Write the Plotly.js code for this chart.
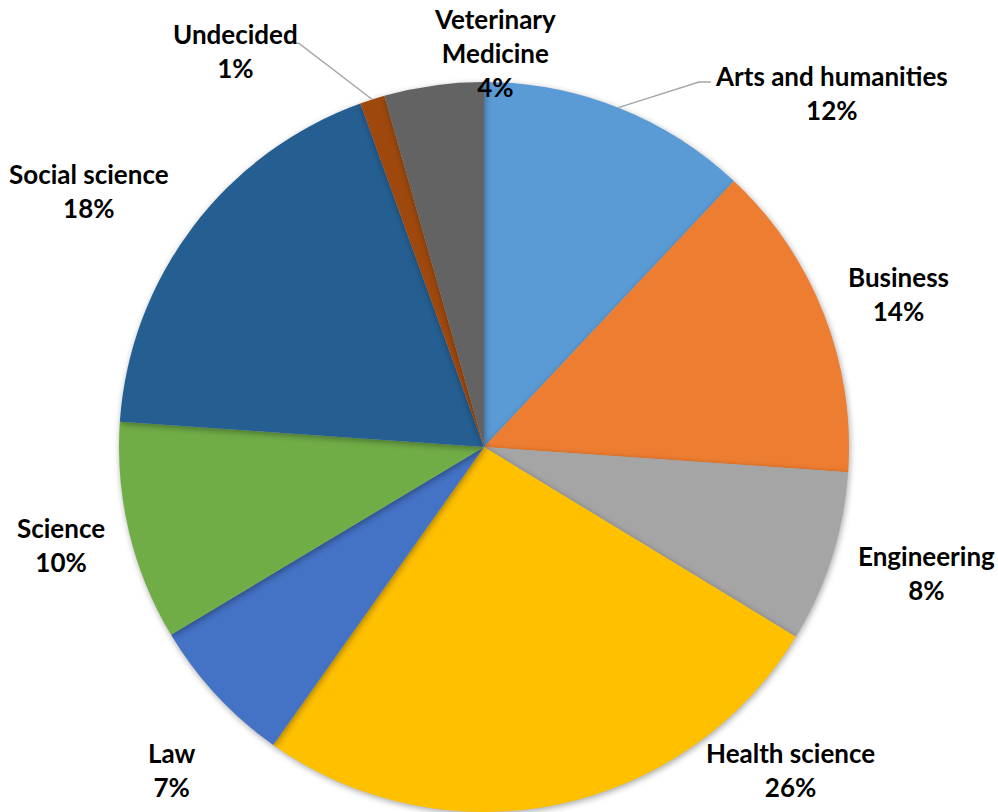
<!DOCTYPE html>
<html>
<head>
<meta charset="utf-8">
<script src="https://cdn.plot.ly/plotly-3.0.1.min.js"></script>
<style>
  html, body { margin: 0; padding: 0; background: #fff; }
  #chart { width: 998px; height: 812px; }
  .pielayer .slice path.surface { filter: drop-shadow(1px 2px 3px rgba(0,0,0,0.35)); }
</style>
</head>
<body>
<div id="chart"></div>
<script>
// ---- data ----
const categories = ["Arts and humanities", "Business", "Engineering", "Health science",
                    "Law", "Science", "Social science", "Undecided", "Veterinary Medicine"];
const shares = [12.0, 14.1, 7.6, 26.1, 6.6, 9.7, 18.4, 1.1, 4.4];
const sliceColors = ["#5B9BD5", "#ED7D31", "#A5A5A5", "#FFC000", "#4472C4",
                     "#70AD47", "#255E91", "#9E480E", "#636363"];
const labelLines = ["Arts and humanities", "Business", "Engineering", "Health science",
                    "Law", "Science", "Social science", "Undecided", "Veterinary<br>Medicine"];

// ---- layout geometry (pixels in the 998x812 canvas) ----
const W = 998, H = 812;
const cx = 484, cy = 447, R = 365;
// label placement: [angle (deg clockwise from 12 o'clock), distance / radius]
const labelPlace = [[44.5, 1.36], [69.7, 1.21], [105.9, 1.26], [136.5, 1.22],
                    [224, 1.23], [257, 1.19], [303, 1.29], [327.9, 1.28], [1.6, 1.08]];
// leader lines: index -> [elbow dx, elbow dy, end dx, end dy] relative to label centre
const leaders = { 0: [-133, -11, -121, -11], 7: [63, -8, 52, -8] };

const px2x = p => p / W;
const py2y = p => 1 - p / H;

const total = shares.reduce((a, b) => a + b, 0);
const pctText = shares.map(v => Math.round(v / total * 100) + "%");

let cum = 0;
const midAngles = shares.map(v => { const m = (cum + v / 2) / total * 360; cum += v; return m; });

const annotations = [];
const shapes = [];
categories.forEach((c, i) => {
  const [ang, f] = labelPlace[i];
  const a = ang * Math.PI / 180;
  const lx = cx + R * f * Math.sin(a);
  const ly = cy - R * f * Math.cos(a);
  annotations.push({
    x: px2x(lx), y: py2y(ly), xref: "paper", yref: "paper",
    xanchor: "center", yanchor: "middle", showarrow: false,
    text: "<b>" + labelLines[i] + "<br>" + pctText[i] + "</b>",
    font: { family: "Lato, 'Open Sans', sans-serif", size: 26, color: "#000" },
    align: "center"
  });
  if (leaders[i]) {
    const m = midAngles[i] * Math.PI / 180;
    const sx = cx + R * Math.sin(m), sy = cy - R * Math.cos(m);
    const [ex, ey, tx, ty] = leaders[i];
    shapes.push({
      type: "path", xref: "paper", yref: "paper",
      path: `M ${px2x(sx)} ${py2y(sy)} L ${px2x(lx + ex)} ${py2y(ly + ey)} L ${px2x(lx + tx)} ${py2y(ly + ty)}`,
      line: { color: "#A6A6A6", width: 1.5 }
    });
  }
});

const trace = {
  type: "pie",
  labels: categories,
  values: shares,
  sort: false,
  direction: "clockwise",
  rotation: 0,
  textinfo: "none",
  marker: { colors: sliceColors, line: { width: 0 } },
  domain: { x: [px2x(cx - R), px2x(cx + R)], y: [py2y(cy + R), py2y(cy - R)] },
  showlegend: false,
  hoverinfo: "label+percent"
};

const layout = {
  width: W, height: H,
  margin: { l: 0, r: 0, t: 0, b: 0 },
  paper_bgcolor: "#fff",
  showlegend: false,
  annotations: annotations,
  shapes: shapes
};

Plotly.newPlot("chart", [trace], layout, { displayModeBar: false, staticPlot: true });
</script>
</body>
</html>
